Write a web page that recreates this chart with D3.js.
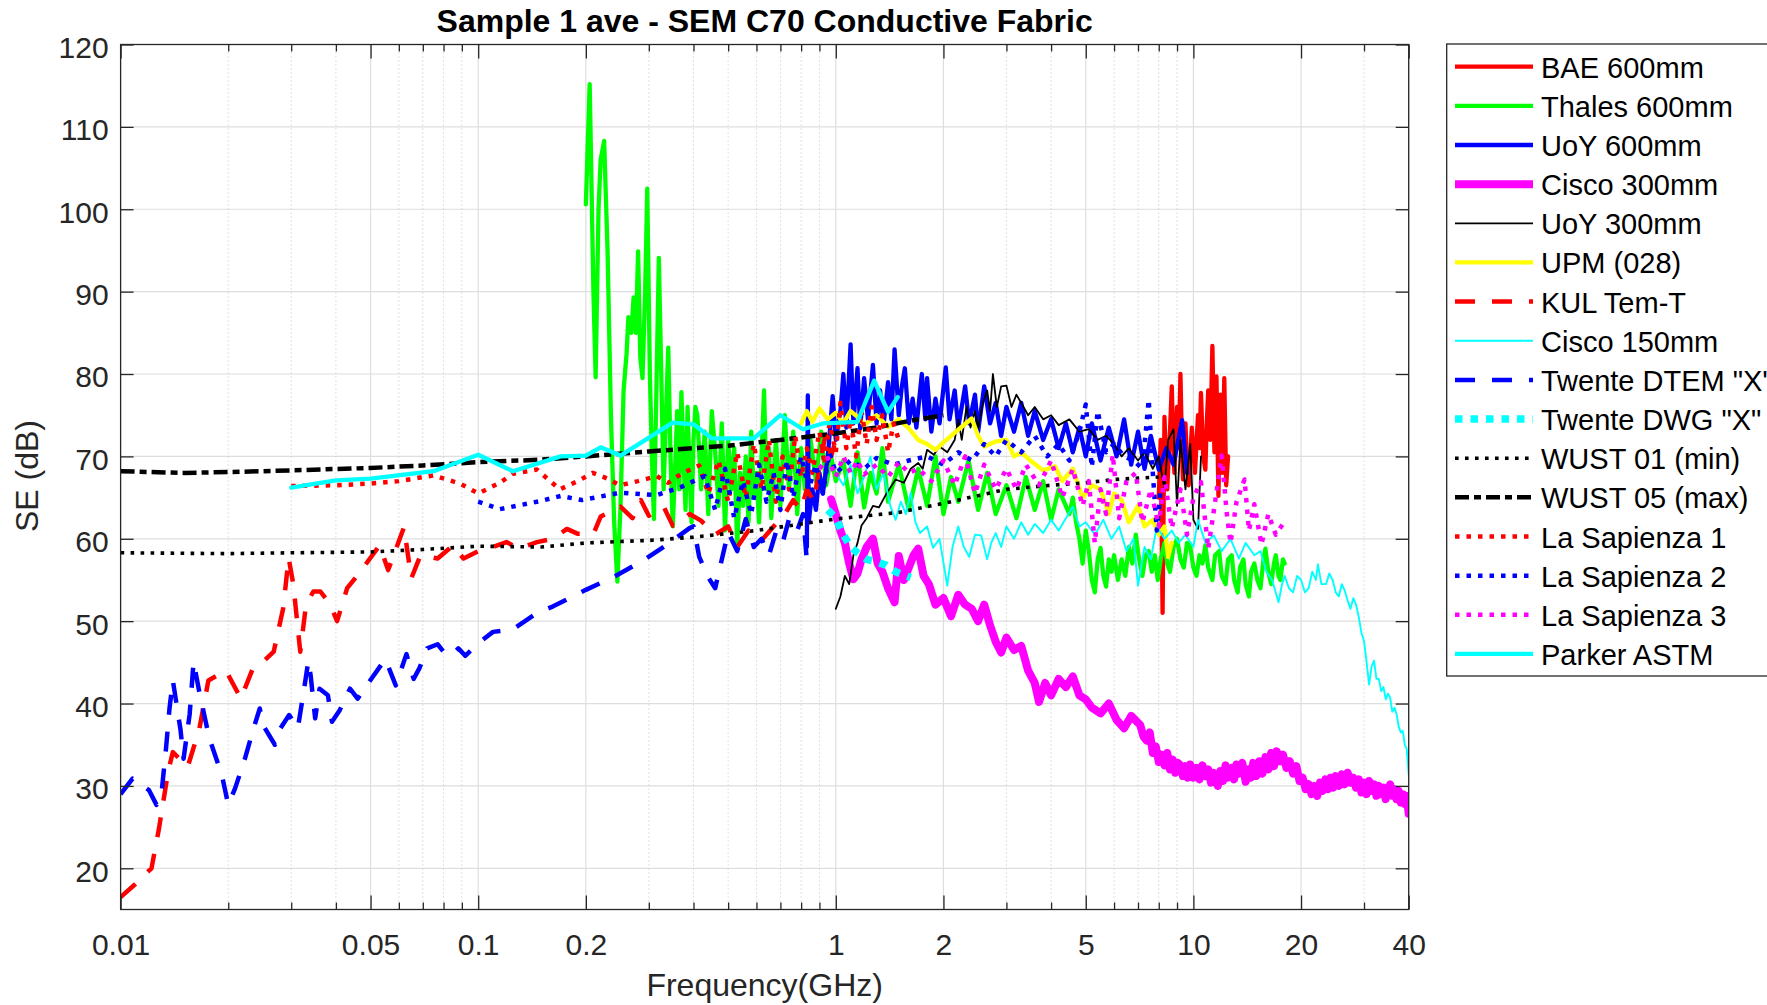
<!DOCTYPE html>
<html><head><meta charset="utf-8">
<script src="https://cdn.jsdelivr.net/npm/d3@7"></script>
<style>
body{margin:0;background:#fff}
svg{display:block}
text{font-family:"Liberation Sans",Arial,Helvetica,sans-serif}
</style>
</head><body>
<svg id="chart" width="1767" height="1005"></svg>
<script>
// ---------- DATA (frequency in GHz, SE in dB) ----------
const chartTitle = "Sample 1 ave - SEM C70 Conductive Fabric";
const xLabel = "Frequency(GHz)";
const yLabel = "SE (dB)";
const xTickValues = [0.01, 0.05, 0.1, 0.2, 1, 2, 5, 10, 20, 40];
const xTickLabels = ["0.01", "0.05", "0.1", "0.2", "1", "2", "5", "10", "20", "40"];
const xMinorTicks = [0.02,0.03,0.04,0.06,0.07,0.08,0.09,0.3,0.4,0.5,0.6,0.7,0.8,0.9,3,4,6,7,8,9,30];
const yTickValues = [20, 30, 40, 50, 60, 70, 80, 90, 100, 110, 120];
const seriesNames = ["BAE 600mm","Thales 600mm","UoY 600mm","Cisco 300mm","UoY 300mm","UPM (028)","KUL Tem-T","Cisco 150mm","Twente DTEM \"X\"","Twente DWG \"X\"","WUST 01 (min)","WUST 05 (max)","La Sapienza 1","La Sapienza 2","La Sapienza 3","Parker ASTM"];

const bae600 = [[8.0,65.0],[8.1,72.0],[8.2,51.0],[8.3,74.8],[8.4,68.0],[8.45,66.0],[8.55,71.0],[8.6,73.0],[8.7,78.5],[8.8,70.0],[8.85,68.0],[9.0,76.0],[9.1,71.0],[9.2,80.0],[9.3,70.0],[9.35,67.2],[9.5,74.0],[9.6,69.0],[9.7,66.5],[9.9,73.5],[10.0,70.5],[10.1,68.0],[10.3,75.0],[10.4,71.0],[10.5,77.7],[10.65,70.0],[10.8,68.4],[10.9,74.0],[11.0,78.0],[11.15,72.0],[11.3,83.4],[11.45,70.5],[11.6,79.7],[11.75,65.2],[11.9,77.5],[12.05,68.0],[12.2,79.5],[12.35,66.5],[12.5,70.0]];

const thales600 = [[0.2,100.6],[0.205,115.2],[0.21,90.0],[0.213,79.6],[0.217,100.0],[0.22,106.0],[0.225,108.3],[0.23,95.0],[0.235,75.0],[0.24,62.0],[0.245,54.8],[0.25,64.0],[0.255,78.0],[0.26,82.5],[0.263,86.9],[0.268,85.0],[0.272,89.3],[0.276,85.0],[0.28,94.9],[0.284,82.0],[0.288,79.5],[0.293,90.0],[0.297,102.5],[0.302,80.0],[0.306,70.0],[0.31,62.4],[0.315,78.0],[0.32,94.1],[0.325,80.0],[0.33,66.0],[0.335,75.0],[0.34,83.2],[0.345,70.0],[0.35,61.5],[0.355,68.0],[0.36,75.5],[0.365,66.0],[0.37,77.8],[0.375,70.0],[0.38,63.5],[0.385,76.0],[0.39,68.0],[0.395,62.0],[0.4,72.0],[0.405,76.0],[0.41,75.0],[0.42,66.0],[0.43,73.0],[0.44,63.0],[0.45,75.5],[0.46,70.5],[0.47,64.0],[0.48,74.0],[0.49,61.0],[0.5,72.0],[0.51,66.0],[0.52,71.0],[0.53,59.0],[0.54,68.0],[0.55,64.0],[0.56,70.0],[0.57,62.0],[0.58,73.0],[0.59,65.0],[0.6,68.0],[0.61,62.0],[0.62,70.0],[0.63,78.0],[0.64,66.0],[0.65,71.0],[0.66,62.5],[0.68,72.0],[0.7,64.0],[0.72,75.0],[0.74,66.0],[0.76,73.0],[0.78,63.0],[0.8,71.0],[0.82,66.0],[0.85,72.0],[0.88,67.0],[0.91,73.0],[0.94,66.5],[0.97,70.0],[1.0,67.0],[1.05,69.5],[1.1,64.0],[1.15,70.5],[1.2,63.8],[1.25,68.0],[1.3,65.5],[1.35,71.0],[1.4,64.5],[1.5,69.0],[1.6,63.5],[1.7,68.5],[1.8,64.0],[1.9,70.0],[2.0,63.0],[2.1,67.5],[2.2,64.5],[2.35,69.5],[2.5,63.5],[2.65,68.0],[2.8,63.0],[3.0,66.5],[3.2,62.5],[3.4,67.5],[3.6,63.5],[3.8,67.0],[4.0,62.3],[4.2,66.0],[4.5,63.0],[4.6,65.0],[4.7,62.0],[4.8,60.0],[4.9,57.0],[5.0,61.0],[5.1,58.5],[5.2,55.0],[5.3,53.5],[5.4,57.5],[5.5,58.9],[5.6,55.5],[5.7,54.2],[5.8,57.5],[5.9,56.0],[6.0,58.0],[6.15,55.0],[6.3,57.5],[6.45,55.5],[6.6,59.0],[6.75,57.0],[6.9,60.5],[7.05,57.5],[7.2,55.5],[7.35,58.0],[7.5,58.5],[7.65,56.0],[7.8,58.0],[7.95,55.0],[8.1,57.5],[8.3,59.5],[8.45,57.0],[8.6,56.0],[8.8,59.0],[9.0,60.0],[9.2,57.5],[9.4,56.5],[9.6,59.5],[9.8,59.0],[10.0,56.5],[10.2,55.5],[10.4,58.0],[10.6,57.0],[10.8,59.2],[11.0,56.5],[11.3,55.0],[11.5,58.0],[11.8,58.5],[12.0,55.5],[12.3,54.5],[12.5,57.5],[12.8,58.0],[13.0,55.0],[13.3,53.5],[13.5,56.5],[13.8,57.5],[14.0,54.5],[14.3,53.0],[14.5,56.0],[14.8,57.0],[15.1,55.0],[15.4,54.0],[15.7,57.5],[15.9,58.8],[16.2,56.0],[16.5,54.5],[16.8,57.0],[17.0,58.0],[17.3,55.5],[17.5,55.0],[17.8,57.5],[18.0,57.0]];

const uoy600 = [[0.83,59.0],[0.835,77.4],[0.84,62.0],[0.86,66.0],[0.88,63.5],[0.9,68.0],[0.92,65.5],[0.95,70.0],[0.98,77.3],[1.0,72.0],[1.03,75.5],[1.05,80.0],[1.07,73.5],[1.1,83.6],[1.12,74.0],[1.15,80.7],[1.17,73.4],[1.2,79.5],[1.23,74.5],[1.27,81.1],[1.3,74.0],[1.33,78.0],[1.36,73.8],[1.4,79.0],[1.43,74.5],[1.46,83.0],[1.5,75.0],[1.53,78.5],[1.56,80.7],[1.6,74.0],[1.64,77.0],[1.68,73.5],[1.74,80.0],[1.78,74.5],[1.8,79.5],[1.85,73.0],[1.9,77.0],[1.95,74.0],[2.03,80.8],[2.08,74.5],[2.15,78.0],[2.2,73.5],[2.3,78.5],[2.36,74.0],[2.45,77.5],[2.5,73.0],[2.6,78.5],[2.7,74.0],[2.8,76.5],[2.9,72.5],[3.0,76.0],[3.15,73.0],[3.3,76.5],[3.45,72.5],[3.6,75.5],[3.8,72.0],[4.0,74.5],[4.2,71.0],[4.4,74.0],[4.6,70.5],[4.8,73.5],[5.0,70.0],[5.2,74.0],[5.5,69.5],[5.8,73.5],[6.1,70.0],[6.4,74.5],[6.7,69.0],[7.0,73.0],[7.3,68.5],[7.6,72.5],[8.0,68.4],[8.4,71.0],[8.8,69.0],[9.3,74.4],[9.6,68.0]];

const cisco300 = [[0.97,64.8],[1.0,63.0],[1.03,61.0],[1.06,59.5],[1.09,57.0],[1.12,55.1],[1.15,55.8],[1.18,57.5],[1.22,59.0],[1.27,60.0],[1.31,57.0],[1.35,56.0],[1.4,54.0],[1.46,52.3],[1.5,57.9],[1.55,55.0],[1.6,56.5],[1.65,58.0],[1.7,58.8],[1.76,55.5],[1.82,54.5],[1.9,52.0],[2.0,52.8],[2.1,50.6],[2.2,53.2],[2.3,52.0],[2.4,51.5],[2.5,50.0],[2.6,52.0],[2.7,49.5],[2.8,47.5],[2.9,46.2],[3.0,48.0],[3.15,46.5],[3.3,47.0],[3.45,44.0],[3.6,42.5],[3.7,40.2],[3.85,42.5],[4.0,41.0],[4.2,43.0],[4.4,42.0],[4.6,43.3],[4.8,41.0],[5.0,40.5],[5.2,39.5],[5.5,38.8],[5.8,40.0],[6.1,38.0],[6.4,37.0],[6.7,38.5],[7.1,37.4],[7.25,36.0],[7.4,35.5],[7.55,36.5],[7.7,34.0],[7.85,34.8],[8.0,32.9],[8.15,33.8],[8.3,32.5],[8.45,34.0],[8.6,32.0],[8.75,33.2],[8.9,31.6],[9.05,32.8],[9.2,32.5],[9.35,31.2],[9.5,32.4],[9.65,31.0],[9.8,32.6],[10.0,31.0],[10.2,32.2],[10.4,30.8],[10.6,32.5],[10.8,31.2],[11.0,32.0],[11.2,30.4],[11.4,31.6],[11.7,30.0],[11.9,31.8],[12.1,30.6],[12.3,32.5],[12.5,31.0],[12.8,32.2],[13.0,30.8],[13.2,32.6],[13.4,31.5],[13.7,32.8],[14.0,30.5],[14.3,32.0],[14.5,31.0],[14.7,32.8],[15.0,31.2],[15.3,33.0],[15.6,31.5],[15.9,33.5],[16.2,32.0],[16.5,34.0],[16.8,32.4],[17.1,34.2],[17.5,33.0],[17.8,33.8],[18.2,32.2],[18.6,33.0],[19.0,31.5],[19.4,32.4],[19.8,30.6],[20.2,31.0],[20.6,29.6],[21.0,30.2],[21.4,29.0],[21.8,30.0],[22.2,28.8],[22.6,30.4],[23.0,29.4],[23.4,30.8],[23.8,29.6],[24.2,31.0],[24.6,29.8],[25.0,31.2],[25.5,30.0],[26.0,31.4],[26.5,30.2],[27.0,31.6],[27.5,30.4],[28.0,31.0],[28.5,29.8],[29.0,30.8],[29.5,29.2],[30.0,30.4],[30.5,29.0],[31.0,30.6],[31.5,29.4],[32.0,30.2],[32.5,28.8],[33.0,30.0],[33.5,29.0],[34.0,29.8],[34.5,28.4],[35.0,29.6],[35.5,30.2],[36.0,28.8],[36.5,29.6],[37.0,28.4],[37.5,29.4],[38.0,28.0],[38.5,29.0],[39.0,27.8],[39.5,28.8],[40.0,26.6]];

const uoy300 = [[1.0,51.5],[1.03,53.0],[1.06,55.5],[1.09,54.5],[1.12,58.0],[1.15,59.5],[1.18,61.6],[1.22,62.5],[1.27,64.0],[1.32,63.8],[1.39,65.6],[1.47,67.2],[1.55,66.8],[1.62,68.5],[1.7,69.2],[1.75,68.5],[1.8,70.8],[1.88,70.2],[1.95,71.2],[2.05,70.5],[2.15,72.0],[2.2,74.5],[2.25,72.0],[2.32,76.0],[2.38,73.5],[2.45,75.5],[2.5,73.4],[2.58,76.5],[2.65,78.0],[2.7,75.5],[2.75,80.0],[2.82,76.0],[2.9,78.5],[3.0,78.6],[3.1,76.0],[3.2,77.5],[3.3,76.5],[3.45,75.0],[3.6,76.0],[3.8,74.5],[4.0,75.0],[4.2,73.8],[4.5,74.5],[4.8,73.0],[5.1,73.3],[5.4,72.0],[5.7,72.5],[6.0,71.5],[6.3,70.0],[6.6,71.0],[7.0,69.5],[7.3,70.5],[7.7,68.5],[8.0,70.0],[8.3,66.0],[8.5,72.0],[8.8,73.3],[9.0,64.0],[9.2,72.0],[9.5,66.0],[9.8,71.5],[10.0,62.3],[10.3,61.2],[10.5,70.0]];

const upm028 = [[0.8,74.0],[0.83,75.5],[0.86,74.2],[0.9,75.8],[0.95,74.5],[1.0,75.3],[1.05,74.0],[1.1,75.5],[1.15,74.8],[1.2,73.8],[1.3,75.0],[1.4,73.6],[1.5,74.5],[1.6,73.4],[1.7,72.0],[1.8,71.5],[1.9,70.8],[2.0,71.7],[2.1,72.5],[2.25,73.6],[2.4,74.6],[2.5,72.5],[2.6,71.2],[2.8,71.8],[3.0,72.0],[3.15,70.0],[3.3,70.5],[3.5,69.5],[3.8,68.3],[4.1,68.8],[4.3,67.0],[4.6,68.5],[4.9,65.0],[5.2,66.5],[5.5,66.0],[5.8,63.0],[6.0,65.5],[6.3,64.7],[6.6,62.0],[7.0,64.0],[7.3,61.5],[7.7,62.3],[8.0,60.5],[8.3,61.5],[8.5,57.8],[8.7,59.5]];

const kulTemT = [[0.01,16.5],[0.011,18.1],[0.0122,20.0],[0.0128,24.8],[0.0136,31.9],[0.014,34.1],[0.0154,32.3],[0.0166,36.9],[0.0176,42.8],[0.0197,44.0],[0.0217,40.6],[0.0234,44.2],[0.0252,45.2],[0.0268,46.3],[0.0285,51.6],[0.0295,57.7],[0.0304,54.5],[0.0318,46.3],[0.033,52.0],[0.0346,53.6],[0.0362,53.6],[0.0386,52.0],[0.0403,50.0],[0.043,54.0],[0.0468,56.0],[0.053,59.2],[0.056,56.2],[0.062,61.4],[0.065,55.2],[0.069,58.0],[0.077,57.6],[0.085,59.2],[0.091,57.6],[0.101,58.6],[0.11,59.0],[0.12,59.6],[0.13,58.8],[0.146,59.6],[0.162,60.0],[0.177,61.2],[0.19,60.6],[0.21,60.6],[0.22,62.7],[0.25,63.9],[0.27,62.5],[0.285,64.7],[0.3,62.8],[0.33,63.9],[0.35,61.6],[0.39,63.0],[0.42,62.2],[0.46,60.5],[0.5,61.5],[0.53,59.0],[0.57,61.0],[0.62,59.8],[0.67,61.5],[0.72,63.0],[0.76,64.7],[0.8,63.5],[0.83,66.0],[0.87,64.5],[0.9,69.0],[0.94,72.9],[0.97,70.0],[1.0,72.0]];

const cisco150 = [[1.0,68.0],[1.05,66.5],[1.1,69.0],[1.15,65.5],[1.2,67.5],[1.25,70.0],[1.3,66.0],[1.36,68.0],[1.42,64.0],[1.47,62.3],[1.52,64.5],[1.57,63.0],[1.62,65.6],[1.67,62.0],[1.72,60.7],[1.8,61.5],[1.87,58.9],[1.95,60.0],[2.05,54.3],[2.12,59.0],[2.2,61.5],[2.28,59.0],[2.36,57.8],[2.45,60.5],[2.55,60.4],[2.65,57.5],[2.72,59.5],[2.8,60.7],[2.9,59.0],[3.0,61.5],[3.15,60.0],[3.3,62.0],[3.45,60.5],[3.6,61.8],[3.8,60.7],[4.0,62.3],[4.2,61.0],[4.4,62.5],[4.6,63.9],[4.8,61.5],[5.0,62.0],[5.3,60.5],[5.6,62.3],[5.9,60.0],[6.2,61.5],[6.5,58.5],[6.8,60.0],[7.0,54.3],[7.3,59.0],[7.6,57.5],[7.9,61.5],[8.3,60.0],[8.7,61.0],[9.1,59.5],[9.5,60.5],[10.0,59.0],[10.3,62.3],[10.8,59.5],[11.4,60.4],[12.0,58.5],[12.7,60.0],[13.4,57.6],[14.0,59.5],[14.8,58.0],[15.4,58.5],[16.0,56.0],[16.6,55.0],[17.3,52.3],[17.7,54.5],[18.0,55.5],[18.5,54.0],[19.0,53.5],[19.5,55.5],[20.0,55.0],[20.5,53.5],[21.0,54.0],[21.5,56.0],[22.0,55.0],[22.3,56.9],[22.8,54.5],[23.5,54.5],[24.0,55.8],[24.5,55.0],[25.0,53.5],[25.5,53.0],[26.0,54.5],[26.5,53.7],[27.0,52.5],[27.5,51.5],[28.0,52.8],[28.5,52.0],[29.0,50.5],[29.5,48.6],[30.0,47.6],[30.5,45.0],[31.0,42.3],[31.5,44.5],[32.0,45.2],[32.5,43.0],[33.0,43.0],[33.5,41.5],[34.0,42.0],[34.5,40.5],[35.0,41.2],[35.5,40.7],[36.0,39.0],[36.5,39.5],[37.0,38.7],[37.5,37.2],[38.0,36.5],[38.5,36.7],[39.0,35.0],[39.5,34.5],[40.0,31.4]];

const twenteDTEM = [[0.01,29.0],[0.0108,30.9],[0.012,29.5],[0.0126,27.7],[0.013,28.9],[0.0134,34.6],[0.0137,39.4],[0.014,42.8],[0.0147,36.9],[0.015,33.3],[0.0156,38.7],[0.016,45.1],[0.0166,41.4],[0.0177,35.8],[0.0192,31.3],[0.02,27.7],[0.0209,29.7],[0.0223,33.4],[0.0234,36.6],[0.0245,39.4],[0.025,37.4],[0.027,35.0],[0.028,37.0],[0.0296,38.6],[0.0313,37.0],[0.0326,41.8],[0.0335,45.2],[0.034,43.4],[0.035,38.2],[0.036,41.8],[0.038,41.0],[0.039,37.8],[0.041,39.2],[0.0438,41.8],[0.046,40.6],[0.0495,42.6],[0.055,45.4],[0.0588,42.2],[0.063,46.0],[0.066,43.0],[0.0685,44.3],[0.072,46.7],[0.077,47.2],[0.08,46.3],[0.084,45.8],[0.088,46.7],[0.092,45.8],[0.1,47.3],[0.11,48.7],[0.125,49.0],[0.146,51.0],[0.162,51.8],[0.18,52.8],[0.2,53.8],[0.24,55.4],[0.29,57.4],[0.34,59.4],[0.39,61.3],[0.4,61.5],[0.415,57.8],[0.44,55.3],[0.46,54.0],[0.48,57.5],[0.5,60.8],[0.53,58.5],[0.56,62.4],[0.59,59.0],[0.62,60.0],[0.65,58.0],[0.68,60.8],[0.71,59.5],[0.74,62.4],[0.78,61.0],[0.81,63.0],[0.83,57.3],[0.85,58.5]];

const twenteDWG = [[0.95,63.5],[1.0,62.5],[1.05,60.5],[1.1,59.0],[1.15,58.3],[1.22,57.5],[1.3,57.2],[1.38,56.8],[1.47,56.0],[1.55,55.6],[1.62,55.3]];

const wust01 = [[0.01,58.3],[0.02,58.2],[0.03,58.3],[0.05,58.4],[0.07,58.7],[0.1,59.1],[0.15,59.0],[0.2,59.5],[0.3,59.8],[0.4,60.2],[0.6,61.0],[0.8,61.8],[1.0,62.4],[1.5,63.2],[2.0,64.3],[3.0,66.0],[4.0,66.5],[5.0,66.8],[6.0,67.2],[8.0,67.5]];

const wust05 = [[0.01,68.2],[0.015,68.0],[0.02,68.1],[0.03,68.3],[0.05,68.6],[0.07,68.9],[0.1,69.3],[0.15,69.6],[0.2,70.0],[0.3,70.6],[0.5,71.3],[0.7,72.0],[1.0,72.8],[1.3,73.5],[1.6,74.3],[2.0,75.0]];

const laSapienza1 = [[0.03,66.4],[0.04,66.5],[0.05,66.7],[0.06,67.0],[0.075,67.7],[0.089,66.7],[0.1,65.5],[0.115,66.8],[0.125,67.9],[0.146,68.4],[0.169,66.0],[0.19,67.0],[0.209,68.0],[0.23,67.3],[0.249,66.5],[0.28,67.0],[0.316,67.6],[0.34,66.8],[0.37,67.9],[0.415,68.9],[0.44,65.5],[0.47,69.5],[0.5,64.5],[0.53,70.5],[0.56,65.0],[0.59,71.5],[0.62,66.0],[0.65,72.0],[0.68,64.5],[0.71,70.0],[0.74,66.0],[0.77,72.5],[0.8,67.5],[0.83,71.0],[0.86,68.0],[0.9,73.0],[0.93,69.0],[0.96,74.0],[1.0,70.5],[1.03,76.5],[1.07,71.0],[1.1,74.5],[1.14,70.0],[1.18,75.5],[1.22,71.5],[1.26,76.0],[1.3,72.0],[1.35,75.0],[1.4,70.5],[1.45,74.0],[1.5,72.0]];

const laSapienza2 = [[0.1,64.5],[0.115,63.6],[0.15,64.6],[0.17,65.2],[0.195,64.7],[0.25,65.6],[0.316,65.3],[0.37,66.3],[0.43,67.6],[0.46,63.5],[0.49,68.5],[0.52,62.5],[0.55,67.0],[0.58,63.0],[0.61,69.0],[0.64,64.5],[0.67,68.0],[0.7,63.5],[0.73,69.5],[0.76,65.0],[0.8,70.0],[0.84,66.0],[0.88,69.0],[0.92,65.5],[0.96,70.5],[1.0,68.0],[1.1,69.5],[1.2,68.5],[1.3,69.8],[1.45,69.0],[1.6,69.5],[1.8,70.0],[2.0,69.0],[2.2,70.5],[2.4,69.5],[2.6,71.5],[2.8,70.0],[3.0,72.0],[3.3,70.5],[3.6,72.5],[3.9,70.0],[4.2,71.5],[4.5,69.5],[4.8,73.0],[5.0,76.3],[5.2,68.7],[5.4,75.5],[5.7,70.5],[6.0,71.5],[6.4,70.0],[6.8,69.5],[7.2,68.5],[7.5,76.9],[7.7,68.0],[7.9,61.0],[8.1,66.0]];

const laSapienza3 = [[0.9,68.5],[0.95,69.8],[1.0,67.5],[1.05,70.0],[1.1,68.0],[1.15,69.5],[1.2,67.8],[1.3,69.0],[1.4,67.5],[1.5,69.3],[1.6,68.0],[1.7,68.5],[1.85,67.0],[2.0,69.5],[2.15,66.5],[2.3,70.0],[2.45,65.5],[2.6,69.0],[2.8,66.0],[3.0,68.5],[3.2,66.0],[3.4,69.0],[3.7,66.5],[4.0,69.5],[4.3,65.0],[4.6,68.5],[4.9,64.0],[5.1,67.0],[5.3,59.5],[5.5,66.0],[5.7,63.0],[5.95,70.2],[6.2,62.5],[6.5,67.0],[6.9,68.0],[7.2,62.0],[7.6,66.0],[8.0,61.5],[8.3,67.5],[8.7,61.3],[9.2,66.0],[9.6,60.5],[10.0,65.0],[10.5,66.9],[11.0,58.8],[11.5,64.5],[12.0,70.1],[12.4,63.0],[12.7,59.5],[13.2,64.5],[13.9,67.2],[14.3,61.0],[14.8,64.2],[15.5,59.3],[16.2,63.0],[17.0,60.5],[17.8,61.8]];

const parkerASTM = [[0.03,66.2],[0.04,67.1],[0.05,67.3],[0.075,68.2],[0.1,70.2],[0.125,68.2],[0.17,70.0],[0.2,70.1],[0.22,71.1],[0.25,70.1],[0.35,74.1],[0.4,73.9],[0.45,72.2],[0.59,72.2],[0.7,75.0],[0.81,73.3],[0.92,74.0],[1.15,74.2],[1.28,79.2],[1.4,75.4],[1.49,77.2]];

// ---------- STYLES ----------
const seriesData = [bae600, thales600, uoy600, cisco300, uoy300, upm028, kulTemT, cisco150, twenteDTEM, twenteDWG, wust01, wust05, laSapienza1, laSapienza2, laSapienza3, parkerASTM];
const seriesStyle = [
  {color:"#ff0000", w:4.3, dash:null},
  {color:"#00ff00", w:4.3, dash:null},
  {color:"#0000ff", w:4.3, dash:null},
  {color:"#ff00ff", w:8, dash:null},
  {color:"#000000", w:1.8, dash:null},
  {color:"#ffff00", w:4.3, dash:null},
  {color:"#ff0000", w:4.5, dash:"20,17"},
  {color:"#00ffff", w:1.9, dash:null},
  {color:"#0000ff", w:4.5, dash:"20,17"},
  {color:"#00ffff", w:7.5, dash:"7.5,8"},
  {color:"#000000", w:3.6, dash:"3.6,6.4"},
  {color:"#000000", w:4.5, dash:"14,5,7,5"},
  {color:"#ff0000", w:4.5, dash:"4.5,7"},
  {color:"#0000ff", w:4.5, dash:"4.5,7"},
  {color:"#ff00ff", w:4.5, dash:"4.5,7"},
  {color:"#00ffff", w:4.3, dash:null}
];

// ---------- LAYOUT ----------
const L = 120.6, R = 1408.7, T = 44.5, B = 909.5;
const axisColor = "#262626";
const svg = d3.select("#chart");
const x = d3.scaleLog().domain([0.01, 40]).range([L, R]);
const y = d3.scaleLinear().domain([15, 120]).range([B, T]);

svg.append("rect").attr("x",0).attr("y",0).attr("width",1767).attr("height",1005).attr("fill","#fff");
svg.append("rect").attr("x",L).attr("y",T).attr("width",R-L).attr("height",B-T).attr("fill","#fff");

// grid
const grid = svg.append("g");
grid.selectAll(".ymaj").data(yTickValues).join("line")
  .attr("x1",L).attr("x2",R).attr("y1",d=>y(d)).attr("y2",d=>y(d))
  .attr("stroke","#dedede").attr("stroke-width",1.2);
grid.selectAll(".xmin").data(xMinorTicks).join("line")
  .attr("x1",d=>x(d)).attr("x2",d=>x(d)).attr("y1",T).attr("y2",B)
  .attr("stroke","#c4c4c4").attr("stroke-width",1).attr("stroke-dasharray","1,3");
grid.selectAll(".xmaj").data(xTickValues).join("line")
  .attr("x1",d=>x(d)).attr("x2",d=>x(d)).attr("y1",T).attr("y2",B)
  .attr("stroke","#dedede").attr("stroke-width",1.2);

// series
svg.append("defs").append("clipPath").attr("id","plotclip")
  .append("rect").attr("x",L).attr("y",T).attr("width",R-L).attr("height",B-T);
const line = d3.line().x(d=>x(d[0])).y(d=>y(d[1]));
const plot = svg.append("g").attr("clip-path","url(#plotclip)");
seriesData.forEach((data,i)=>{
  const s = seriesStyle[i];
  plot.append("path").datum(data)
    .attr("d", line)
    .attr("fill","none")
    .attr("stroke", s.color)
    .attr("stroke-width", s.w)
    .attr("stroke-linejoin","round")
    .attr("stroke-linecap", s.dash ? "butt" : "round")
    .attr("stroke-dasharray", s.dash);
});

// axes
function styleAxis(g){
  g.select(".domain").remove();
  g.selectAll(".tick line").attr("stroke",axisColor).attr("stroke-width",1.3);
  g.selectAll(".tick text").attr("fill",axisColor).attr("font-size",30)
    .attr("font-family",'"Liberation Sans",Arial,sans-serif');
}
const xb = svg.append("g").attr("transform",`translate(0,${B})`)
  .call(d3.axisBottom(x).tickValues(xTickValues).tickFormat((d,i)=>xTickLabels[i]).tickSizeInner(-14).tickSizeOuter(0).tickPadding(24));
styleAxis(xb);
const xbm = svg.append("g").attr("transform",`translate(0,${B})`)
  .call(d3.axisBottom(x).tickValues(xMinorTicks).tickFormat("").tickSizeInner(-7).tickSizeOuter(0));
styleAxis(xbm);
const xt = svg.append("g").attr("transform",`translate(0,${T})`)
  .call(d3.axisTop(x).tickValues(xTickValues).tickFormat("").tickSizeInner(-14).tickSizeOuter(0));
styleAxis(xt);
const xtm = svg.append("g").attr("transform",`translate(0,${T})`)
  .call(d3.axisTop(x).tickValues(xMinorTicks).tickFormat("").tickSizeInner(-7).tickSizeOuter(0));
styleAxis(xtm);
const yl = svg.append("g").attr("transform",`translate(${L},0)`)
  .call(d3.axisLeft(y).tickValues(yTickValues).tickSizeInner(-13).tickSizeOuter(0).tickPadding(12));
styleAxis(yl);
yl.selectAll(".tick text").attr("dy","0.43em");
const yr = svg.append("g").attr("transform",`translate(${R},0)`)
  .call(d3.axisRight(y).tickValues(yTickValues).tickFormat("").tickSizeInner(-13).tickSizeOuter(0));
styleAxis(yr);

svg.append("rect").attr("x",L).attr("y",T).attr("width",R-L).attr("height",B-T)
  .attr("fill","none").attr("stroke",axisColor).attr("stroke-width",1.3);

// titles
svg.append("text").attr("x",(L+R)/2).attr("y",31.5).attr("text-anchor","middle")
  .attr("font-size",32).attr("font-weight","bold").attr("fill","#000").text(chartTitle);
svg.append("text").attr("x",(L+R)/2).attr("y",996).attr("text-anchor","middle")
  .attr("font-size",32).attr("fill",axisColor).text(xLabel);
svg.append("text").attr("transform",`translate(38,476) rotate(-90)`).attr("text-anchor","middle")
  .attr("font-size",32).attr("fill",axisColor).text(yLabel);

// legend (box runs past the right edge, as in the reference)
const lgX = 1446.7, lgY = 44, lgH = 632, rowH = 39.15, row0 = 66.7;
const lg = svg.append("g");
lg.append("rect").attr("x",lgX).attr("y",lgY).attr("width",400).attr("height",lgH)
  .attr("fill","#fff").attr("stroke",axisColor).attr("stroke-width",1.3);
seriesNames.forEach((name,i)=>{
  const s = seriesStyle[i];
  const yy = row0 + i*rowH;
  lg.append("line").attr("x1",1455).attr("x2",1533).attr("y1",yy).attr("y2",yy)
    .attr("stroke",s.color).attr("stroke-width",s.w).attr("stroke-dasharray",s.dash)
    .attr("stroke-linecap","butt");
  lg.append("text").attr("x",1541).attr("y",yy+11).attr("font-size",29).attr("fill","#000").text(name);
});
</script>
</body></html>
